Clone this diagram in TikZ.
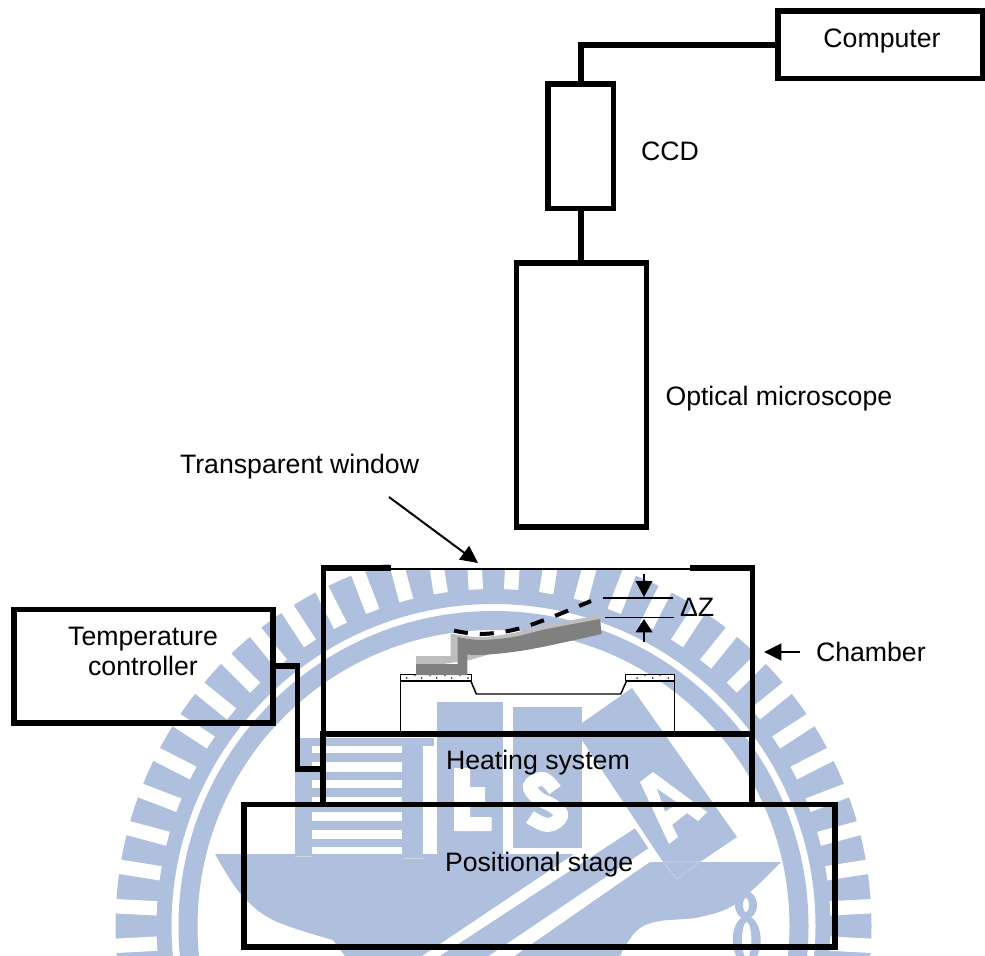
\documentclass[tikz,border=0pt]{standalone}
\usepackage{fontspec}
\setmainfont{Liberation Sans}
\usetikzlibrary{arrows.meta}
\definecolor{wm}{HTML}{AFBFDE}
\definecolor{wmfaint}{HTML}{CBD6EA}
\definecolor{canlight}{HTML}{BEBEBE}
\definecolor{candark}{HTML}{808080}
\newdimen\pxu \pxu=0.75pt
\tikzset{
  heavy/.style={draw=black,line width=4.3pt,line join=miter},
  boxnode/.style={heavy,rectangle,inner sep=0pt,outer sep=0pt},
  wire/.style={draw=black,line width=4.3pt,line join=miter},
  lbl/.style={inner sep=0pt,outer sep=0pt,anchor=base,font=\fontsize{20}{24}\selectfont,text=black},
  lblw/.style={lbl,anchor=base west},
  pointer/.style={draw=black,line width=1.5pt,-{Triangle[length=13pt,width=12.5pt]}},
  dimline/.style={draw=black,line width=1.2pt},
  chiptop/.style={draw=black,line width=1pt,fill=white},
  chipline/.style={draw=black,line width=1pt},
  dotmark/.style={fill=black!75,draw=none}
}
\begin{document}
\begin{tikzpicture}[x=0.75pt,y=-0.75pt]
\useasboundingbox (0,0) rectangle (985,956);
% watermark
\begin{scope}
\clip (0,568) -- (391,568) -- (391,564) -- (0,564) -- cycle (0,568) rectangle (985,956);
\fill[wm,even odd rule] (493.5,926) circle[radius=378] (493.5,926) circle[radius=322];
\fill[wm,even odd rule] (493.5,926) circle[radius=315] (493.5,926) circle[radius=296];
\foreach \a in {-21,-15,...,201}{
  \fill[white,rotate around={\a:(493.5,926)}] (830.5,918.8) rectangle (890,933.2);
}
% comb and T
\fill[wm] (295,738) rectangle (312,855);
\fill[wm] (295,738) rectangle (434,746);
\fill[wm] (402.3,738) rectangle (423.3,855);
\foreach \ya/\yb in {753.3/761.7,771.7/780,787.7/796.7,805/812.3,821/830,839/846.7}{
  \fill[wm] (312,\ya) rectangle (402.3,\yb);
}
% E and S blocks
\fill[wm] (437,702) rectangle (503.3,855);
\fill[wm] (513.3,707) rectangle (581.7,848);
\fill[white] (454,768) -- (470,768) -- (470,787) -- (485,787) -- (485,802) -- (470,802) -- (470,817) -- (491.7,817) -- (491.7,831) -- (454,831) -- cycle;
\draw[white,line width=10.5pt] plot[smooth,tension=0.7] coordinates {(555,790) (543,779) (530,786) (538,798) (553,806) (561,816) (548,825) (530,817)};
% A diamond
\fill[wm] (632,688) -- (737,837) -- (700,862) -- (663,862) -- (582,740) -- (582,723) -- cycle;
\fill[white,even odd rule] (640,782) -- (653,772) -- (707,812) -- (698,821) -- (687,813) -- (672,825) -- (678,837) -- (669,844) -- cycle
  (656.7,788.3) -- (678.3,803.3) -- (665,811.7) -- cycle;
% bowl pieces
\fill[wm] (215,854) -- (574,854) -- (422,956) -- (345,956) -- plot[smooth,tension=0.6] coordinates {(333,940) (273,920) (240,893) (215,854)} -- cycle;
\fill[wm] (635,828.3) -- (648.3,848.3) -- (488.5,956) -- (440,956) -- cycle;
\fill[wm] (650,862) -- (781,862) -- plot[smooth,tension=0.6] coordinates {(781,862) (737,903) (700,917) (660,921) (640,928) (627,943) (620,956)} -- (514.5,956) -- cycle;
\fill[wm,even odd rule] (746,905) ellipse[x radius=11,y radius=14] (746,905) ellipse[x radius=3,y radius=7];
\fill[wm,even odd rule] (746.7,940) ellipse[x radius=14,y radius=24] (746.7,940) ellipse[x radius=4.7,y radius=18];
\draw[wmfaint,line width=0.4pt] (663,862) -- (676.7,879.3) -- (700,862) -- cycle;
\draw[wmfaint,line width=0.4pt] (295,856) -- (312,856) (403,858) -- (423,858);
\end{scope}

% connectors' end boxes
\node[boxnode,minimum width=205\pxu,minimum height=67.5\pxu] (computer) at (880.5,44.75) {};
\node[boxnode,minimum width=65.5\pxu,minimum height=124.5\pxu] (ccd) at (580.75,146.25) {};
\node[boxnode,minimum width=130\pxu,minimum height=264\pxu] (micro) at (581.5,395) {};
\node[boxnode,minimum width=259\pxu,minimum height=113.5\pxu] (temp) at (143.2,666.25) {};
\node[boxnode,minimum width=429\pxu,minimum height=70.5\pxu] (heating) at (537.75,769.25) {};
\node[boxnode,minimum width=591\pxu,minimum height=142.5\pxu] (stage) at (539.2,875.75) {};

\draw[wire] (ccd.north) |- (computer.west);
\draw[wire] (ccd.south) -- (micro.north -| ccd.south);
\coordinate (bend) at (297.5,666.25);
\draw[wire] (temp.east) -- (bend) |- (heating.west);

% chamber
\draw[heavy] (390.7,568.3) -- (323.5,568.3) -- (323.5,734);
\draw[heavy] (690,568.3) -- (752.5,568.3) -- (752.5,734);
\draw[draw=black,line width=1.5pt] (390.7,569) -- (690,569);

% substrate
\draw[chiptop] (400.7,674.3) rectangle (471.7,680.7);
\draw[chiptop] (625.7,674.3) rectangle (674.3,680.7);
\draw[draw=black,line width=1.8pt] (400.7,680.7) -- (471.7,680.7) (625.7,680.7) -- (674.3,680.7);
\draw[chipline] (400.7,680.7) -- (400.7,734) (674.3,680.7) -- (674.3,734);
\draw[draw=black,line width=1.1pt] (470.7,680.7) -- (476.3,694) -- (620.7,694) -- (626.7,680.7);
\foreach \xx in {406.7,421.7,436.7,451.7,468,637,652.7,668.3}{\fill[dotmark] (\xx,678) circle[radius=1];}
\foreach \xx in {415,430,445,460,645,660}{\fill[dotmark] (\xx,675.6) circle[radius=0.8];}

% cantilever
\fill[canlight] (416,664) -- (416,656) -- (450.7,656) -- (450.7,633.5) --
  plot[smooth,tension=0.6] coordinates {(450.7,633.5) (480,637) (513,633) (547,625) (600,615)} --
  (601,622) -- (470,660) -- (430,666) -- cycle;
\fill[candark] (416,675) -- (416,664) -- (457.5,664) -- (457.5,637) --
  plot[smooth,tension=0.6] coordinates {(457.5,637) (480,640) (513,637) (547,629) (600,619)} --
  (601.7,634) --
  plot[smooth,tension=0.6] coordinates {(601.7,634) (547,646) (513,652) (480,655) (467.3,654.3)} --
  (467.3,675) -- cycle;
\draw[black,line width=3pt,dash pattern=on 10.5pt off 9pt] plot[smooth,tension=0.6] coordinates {(454,630.7) (480,634) (513,630) (547,619) (591,601)};

% delta z
\coordinate (dzup1) at (602.7,597.7);
\coordinate (dzup2) at (672.7,597.7);
\coordinate (dzlo1) at (605,617.3);
\coordinate (dzlo2) at (674,617.3);
\draw[dimline] (dzup1) -- (dzup2);
\draw[dimline] (dzlo1) -- (dzlo2);
\coordinate (dzat) at (644,574);
\coordinate (dzae) at (644,597);
\coordinate (dzbt) at (644,642);
\coordinate (dzbe) at (644,619);
\draw[draw=black,line width=1.2pt,-{Triangle[length=12pt,width=12.5pt]}] (dzat) -- (dzae);
\draw[draw=black,line width=1.2pt,-{Triangle[length=10pt,width=12.5pt]}] (dzbt) -- (dzbe);

% pointers
\coordinate (winS) at (389,497);
\coordinate (winE) at (478,563);
\draw[pointer] (winS) -- (winE);
\coordinate (chS) at (800,652);
\coordinate (chE) at (764,652);
\draw[pointer] (chS) -- (chE);

% labels
\node[lbl] (tcomputer) at (882,47.5) {Computer};
\node[lblw] (tccd) at (641,160.5) {CCD};
\node[lblw] (toptical) at (665.5,405) {Optical microscope};
\node[lblw] (twindow) at (180,473) {Transparent window};
\node[lbl] (ttemp) at (143,645) {Temperature};
\node[lbl] (tctrl) at (143,675) {controller};
\node[lblw] (tchamber) at (816,661) {Chamber};
\node[lblw] (theat) at (446,769) {Heating system};
\node[lblw] (tpos) at (445,871) {Positional stage};
\node[lblw] (tdz) at (680,616.5) {ΔZ};
\end{tikzpicture}
\end{document}
